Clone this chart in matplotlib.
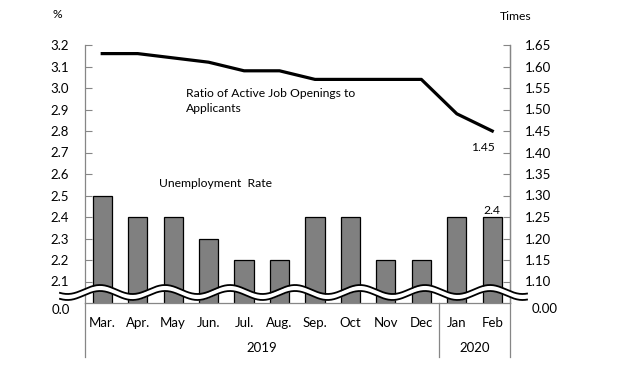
import numpy as np
import matplotlib
matplotlib.use("Agg")
import matplotlib.pyplot as plt
import matplotlib.transforms as mtransforms

months = ["Mar.", "Apr.", "May", "Jun.", "Jul.", "Aug.", "Sep.", "Oct", "Nov", "Dec", "Jan", "Feb"]
unemployment = [2.5, 2.4, 2.4, 2.3, 2.2, 2.2, 2.4, 2.4, 2.2, 2.2, 2.4, 2.4]
job_ratio = [1.63, 1.63, 1.62, 1.61, 1.59, 1.59, 1.57, 1.57, 1.57, 1.57, 1.49, 1.45]
left_ticks = [2.1, 2.2, 2.3, 2.4, 2.5, 2.6, 2.7, 2.8, 2.9, 3.0, 3.1, 3.2]
right_ticks = [1.10, 1.15, 1.20, 1.25, 1.30, 1.35, 1.40, 1.45, 1.50, 1.55, 1.60, 1.65]
years = ["2019", "2020"]

plt.rcParams['font.family'] = ['Lato', 'DejaVu Sans']
W, H = 627, 371
fig = plt.figure(figsize=(W / 100, H / 100), dpi=100)
fig.patch.set_facecolor("white")

GRAY = "#868686"
ax_l, ax_r, ax_t, ax_b = 84.5, 510, 45, 303
ax = fig.add_axes([ax_l / W, (H - ax_b) / H, (ax_r - ax_l) / W, (ax_b - ax_t) / H])
x = np.arange(len(months))
ax.bar(x, unemployment, width=0.54, color="#808080", edgecolor="black", linewidth=0.9, zorder=2)
ax.set_xlim(-0.5, len(months) - 0.5)
ax.set_ylim(2.0, 3.2)
ax.set_yticks(left_ticks)
ax.set_yticklabels([f"{v:.1f}" for v in left_ticks])
ax.set_xticks(x)
ax.set_xticklabels(months)
ax.tick_params(axis="y", direction="in", length=5, color=GRAY, width=0.8, pad=11, labelsize=9.5)
ax.tick_params(axis="x", length=0, pad=10, labelsize=9.5)
for s in ["top"]:
    ax.spines[s].set_visible(False)
for s in ["left", "bottom", "right"]:
    ax.spines[s].set_color(GRAY)
    ax.spines[s].set_linewidth(0.9)

ax2 = ax.twinx()
ax2.plot(x, job_ratio, color="black", linewidth=2.3, zorder=3)
ax2.set_ylim(1.05, 1.65)
ax2.set_yticks(right_ticks)
ax2.set_yticklabels([f"{v:.2f}" for v in right_ticks])
ax2.tick_params(axis="y", direction="in", length=5, color=GRAY, width=0.8, pad=11, labelsize=9.5)
for s in ["top", "left", "bottom"]:
    ax2.spines[s].set_visible(False)
ax2.spines["right"].set_color(GRAY)
ax2.spines["right"].set_linewidth(0.9)

# extended vertical lines below axis
ext = -(357 - ax_b) / (ax_b - ax_t)
bt = mtransforms.blended_transform_factory(ax.transData, ax.transAxes)
for xv in [-0.5, 9.5, len(months) - 0.5]:
    ax.plot([xv, xv], [0, ext], transform=bt, color=GRAY, lw=0.9, clip_on=False)

# year labels
yl = -(348 - ax_b) / (ax_b - ax_t)
ax.text(4.5, yl, years[0], transform=bt, ha="center", va="center", fontsize=9.5)
ax.text(10.5, yl, years[1], transform=bt, ha="center", va="center", fontsize=9.5)

# annotations
ax.text(2.35, 2.94, "Ratio of Active Job Openings to\nApplicants", ha="left", va="center",
        fontsize=8.7, linespacing=1.45)
ax.text(1.6, 2.555, "Unemployment  Rate", ha="left", va="center", fontsize=8.7)
ax2.annotate(f"{job_ratio[-1]:.2f}", (x[-1], job_ratio[-1]), xytext=(2, -12), textcoords="offset points",
             ha="right", va="center", fontsize=8.7)
ax.annotate(f"{unemployment[-1]:.1f}", (x[-1], unemployment[-1]), xytext=(0, 5), textcoords="offset points",
            ha="center", va="center", fontsize=8.7)

# axis titles and break labels
fig.text(57 / W, 1 - 15 / H, "%", ha="center", va="center", fontsize=8.7)
fig.text(516 / W, 1 - 16 / H, "Times", ha="center", va="center", fontsize=8.7)
fig.text(70 / W, 1 - 310 / H, "0.0", ha="right", va="center", fontsize=9.5)
fig.text(532 / W, 1 - 309 / H, "0.00", ha="left", va="center", fontsize=9.5)

# axis break wave
ov = fig.add_axes([0, 0, 1, 1], zorder=10)
ov.set_xlim(0, W)
ov.set_ylim(H, 0)
ov.axis("off")
ov.patch.set_alpha(0)
wx = np.linspace(60, 527, 500)
top = 289.5 - 4.5 * np.cos(2 * np.pi * (wx - 100) / 65)
bot = top + 6.0
ov.fill_between(wx, top, bot, color="white", lw=0)
ov.plot(wx, top, color="black", lw=1.3)
ov.plot(wx, bot, color="black", lw=1.3)

fig.savefig("out.png", dpi=100)
